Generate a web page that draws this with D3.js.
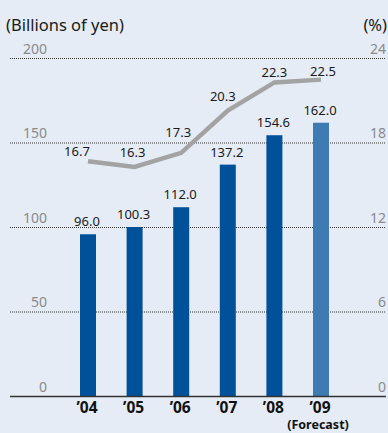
<!DOCTYPE html>
<html><head><meta charset="utf-8">
<script src="https://cdn.jsdelivr.net/npm/d3@7"></script>
<style>
html,body{margin:0;padding:0;background:#e5ecf5;}
svg{display:block;}
text{font-family:"Noto Sans",sans-serif;}
</style></head>
<body><svg id="c" width="388" height="433"></svg>
<script>
const years = ["’04","’05","’06","’07","’08","’09"];
const sales = [96.0,100.3,112.0,137.2,154.6,162.0];
const ratio = [16.7,16.3,17.3,20.3,22.3,22.5];
const forecast = [false,false,false,false,false,true];
const leftTicks = [0,50,100,150,200];
const rightTicks = [0,6,12,18,24];
const lineLabelDx = [-11,-2,-3,-5,0,2];
const lineLabelDy = [-5,-10,-16,-10,-5,-4];

const svg = d3.select("#c");
const x = d3.scaleBand().domain(years).range([64.7,344.3]).paddingInner(0.657).paddingOuter(0.3285);
const yL = d3.scaleLinear().domain([0,200]).range([396.5,58.5]);
const yR = d3.scaleLinear().domain([0,24]).range([396.5,58.5]);

// gridlines
svg.append("g").selectAll("line").data(leftTicks.filter(d=>d>0)).join("line")
  .attr("x1",10).attr("x2",386).attr("y1",d=>yL(d)).attr("y2",d=>yL(d))
  .attr("stroke","#333").attr("stroke-width",1).attr("stroke-dasharray","1,1");

// left tick labels
svg.append("g").selectAll("text").data(leftTicks).join("text")
  .attr("x",47).attr("y",d=>yL(d)-5).attr("text-anchor","end")
  .attr("font-size",14).attr("fill","#8a8a8a").text(d=>d);
// right tick labels
svg.append("g").selectAll("text").data(rightTicks).join("text")
  .attr("x",386).attr("y",d=>yR(d)-5).attr("text-anchor","end")
  .attr("font-size",14).attr("fill","#8a8a8a").text(d=>d);

// titles
svg.append("text").attr("x",6).attr("y",31).attr("font-size",16.5).attr("fill","#1a1a1a").text("(Billions of yen)");
svg.append("text").attr("x",387).attr("y",31).attr("text-anchor","end").attr("font-size",16.5).attr("fill","#1a1a1a").text("(%)");

// bars
svg.append("g").selectAll("rect").data(sales).join("rect")
  .attr("x",(d,i)=>x(years[i])).attr("width",x.bandwidth())
  .attr("y",d=>yL(d)).attr("height",d=>yL(0)-yL(d))
  .attr("fill",(d,i)=>forecast[i]?"#3f7bb3":"#00509a");

// bar labels
svg.append("g").selectAll("text").data(sales).join("text")
  .attr("x",(d,i)=>x(years[i])+x.bandwidth()/2-1).attr("y",d=>yL(d)-8)
  .attr("text-anchor","middle").attr("font-size",13).attr("fill","#1a1a1a")
  .text(d=>d.toFixed(1));

// baseline
svg.append("line").attr("x1",10).attr("x2",386).attr("y1",yL(0)).attr("y2",yL(0))
  .attr("stroke","#333").attr("stroke-width",1.5);

// line
const cx = i => x(years[i])+x.bandwidth()/2;
const line = d3.line().x((d,i)=>cx(i)).y(d=>yR(d));
svg.append("path").datum(ratio).attr("d",line).attr("fill","none")
  .attr("stroke","#a3a3a3").attr("stroke-width",4.5).attr("stroke-linejoin","miter");

svg.append("g").selectAll("text").data(ratio).join("text")
  .attr("x",(d,i)=>cx(i)+lineLabelDx[i]).attr("y",(d,i)=>yR(d)+lineLabelDy[i])
  .attr("text-anchor","middle").attr("font-size",13).attr("fill","#1a1a1a")
  .text(d=>d.toFixed(1));

// x labels
svg.append("g").selectAll("text").data(years).join("text")
  .attr("x",(d,i)=>cx(i)-1).attr("y",412.5).attr("text-anchor","middle")
  .attr("font-size",15.5).attr("font-weight","bold").attr("fill","#111").text(d=>d);
svg.append("text").attr("x",cx(5)-3).attr("y",429).attr("text-anchor","middle")
  .attr("font-size",12.5).attr("font-weight","bold").attr("fill","#111").text("(Forecast)");
</script></body></html>
